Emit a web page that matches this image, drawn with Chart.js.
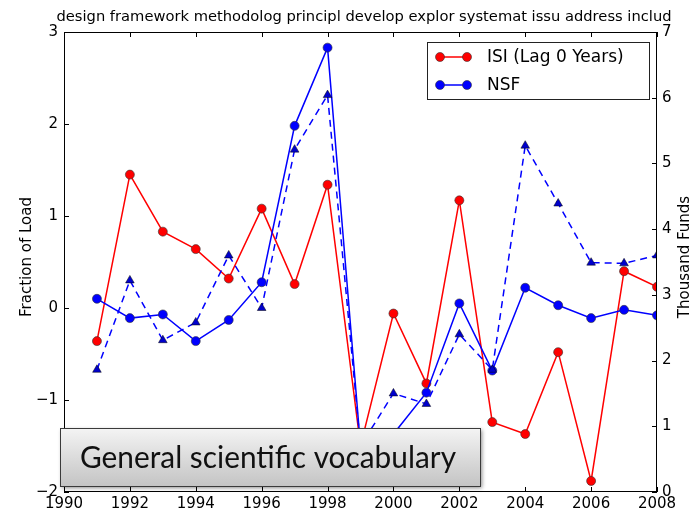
<!DOCTYPE html>
<html>
<head>
    <script src="https://cdn.jsdelivr.net/npm/chart.js@4.4.1/dist/chart.umd.min.js"></script>
    <style>
        html, body { margin: 0; padding: 0; background: #fff; }
        #wrap { width: 698px; height: 511px; }
    </style>
</head>
<body>
    <div id="wrap"><canvas id="chart" width="698" height="511"></canvas></div>

    <script>
        // values
        const years = [1991, 1992, 1993, 1994, 1995, 1996, 1997, 1998, 1999, 2000,
                       2001, 2002, 2003, 2004, 2005, 2006, 2007, 2008]
        const isi = [-0.36, 1.45, 0.83, 0.64, 0.32, 1.08, 0.26, 1.34, -1.5, -0.06,
                     -0.82, 1.17, -1.24, -1.37, -0.48, -1.88, 0.40, 0.23]
        const nsf = [0.10, -0.11, -0.07, -0.36, -0.13, 0.28, 1.98, 2.83, -1.5, -1.37,
                     -0.92, 0.05, -0.68, 0.22, 0.03, -0.11, -0.02, -0.08]
        const funds = [1.86, 3.22, 2.31, 2.58, 3.60, 2.80, 5.21, 6.04, 0.7, 1.50,
                       1.34, 2.40, 1.86, 5.27, 4.39, 3.49, 3.48, 3.60]

        const titleText = "design framework methodolog principl develop explor systemat issu address includ"
        const legendLabels = ["ISI (Lag 0 Years)", "NSF"]
        const boxText = "General scientific vocabulary"

        const pts = arr => years.map((y, i) => ({ x: y, y: arr[i] }))
        const font = "DejaVu Sans"

        // frame, inward ticks, titles, legend and the grey label box
        const decor = {
            id: "decor",
            afterDatasetsDraw(chart) {
                const ctx = chart.ctx
                const a = chart.chartArea
                const sx = chart.scales.x, sl = chart.scales.y, sr = chart.scales.y2
                ctx.save()
                ctx.strokeStyle = "#000"
                ctx.lineWidth = 1
                ctx.strokeRect(a.left + 0.5, a.top + 0.5, a.right - a.left - 1, a.bottom - a.top - 1)
                ctx.beginPath()
                for (let v = 1990; v <= 2008; v += 2) {
                    const px = Math.round(sx.getPixelForValue(v)) + 0.5
                    ctx.moveTo(px, a.bottom); ctx.lineTo(px, a.bottom - 5)
                    ctx.moveTo(px, a.top); ctx.lineTo(px, a.top + 5)
                }
                for (let v = -2; v <= 3; v++) {
                    const py = Math.round(sl.getPixelForValue(v)) + 0.5
                    ctx.moveTo(a.left, py); ctx.lineTo(a.left + 5, py)
                }
                for (let v = 0; v <= 7; v++) {
                    const py = Math.round(sr.getPixelForValue(v)) + 0.5
                    ctx.moveTo(a.right, py); ctx.lineTo(a.right - 5, py)
                }
                ctx.stroke()

                // title
                ctx.fillStyle = "#000"
                ctx.font = "14.7px '" + font + "'"
                ctx.textAlign = "center"
                ctx.textBaseline = "middle"
                ctx.fillText(titleText, 364, 17)

                // axis titles
                ctx.font = "15px '" + font + "'"
                ctx.save()
                ctx.translate(27, 257)
                ctx.rotate(-Math.PI / 2)
                ctx.fillText("Fraction of Load", 0, 0)
                ctx.restore()
                ctx.save()
                ctx.translate(685, 257)
                ctx.rotate(-Math.PI / 2)
                ctx.fillText("Thousand Funds", 0, 0)
                ctx.restore()

                // legend
                ctx.fillStyle = "#fff"
                ctx.fillRect(427, 42, 222, 57)
                ctx.strokeStyle = "#222"
                ctx.strokeRect(427.5, 42.5, 222, 57)
                const cols = ["#ff0000", "#0000ff"]
                const rows = [57, 85]
                rows.forEach((ry, i) => {
                    ctx.strokeStyle = cols[i]
                    ctx.lineWidth = 1.5
                    ctx.beginPath()
                    ctx.moveTo(440, ry); ctx.lineTo(467, ry)
                    ctx.stroke()
                    for (const cx of [440, 467]) {
                        ctx.beginPath()
                        ctx.arc(cx, ry, 4.5, 0, Math.PI * 2)
                        ctx.fillStyle = cols[i]
                        ctx.fill()
                        ctx.lineWidth = 0.6
                        ctx.strokeStyle = "#333"
                        ctx.stroke()
                    }
                    ctx.fillStyle = "#000"
                    ctx.font = "17px '" + font + "'"
                    ctx.textAlign = "left"
                    ctx.fillText(legendLabels[i], 487, ry + 1)
                })

                // grey caption box
                ctx.save()
                ctx.shadowColor = "rgba(0,0,0,0.45)"
                ctx.shadowBlur = 4
                ctx.shadowOffsetX = 2
                ctx.shadowOffsetY = 2
                const g = ctx.createLinearGradient(0, 428, 0, 486)
                g.addColorStop(0, "#f4f4f4")
                g.addColorStop(1, "#c4c4c4")
                ctx.fillStyle = g
                ctx.fillRect(60, 428, 420, 58)
                ctx.restore()
                ctx.strokeStyle = "#3a3a3a"
                ctx.lineWidth = 1
                ctx.strokeRect(60.5, 428.5, 420, 58)
                ctx.fillStyle = "#111"
                ctx.font = "31px Lato"
                ctx.textAlign = "left"
                ctx.textBaseline = "alphabetic"
                ctx.fillText(boxText, 80, 468, 376)
                ctx.restore()
            }
        }

        new Chart(document.getElementById("chart"), {
            type: "line",
            data: {
                datasets: [
                    {
                        label: "Funds",
                        data: pts(funds),
                        yAxisID: "y2",
                        borderColor: "#0000ff",
                        borderWidth: 1.5,
                        borderDash: [7, 5],
                        pointStyle: "triangle",
                        pointRadius: 5,
                        pointBackgroundColor: "#0000cc",
                        pointBorderColor: "#000",
                        pointBorderWidth: 0.5,
                        order: 0
                    },
                    {
                        label: legendLabels[1],
                        data: pts(nsf),
                        yAxisID: "y",
                        borderColor: "#0000ff",
                        borderWidth: 1.5,
                        pointRadius: 4.5,
                        pointBackgroundColor: "#0000ff",
                        pointBorderColor: "#333",
                        pointBorderWidth: 0.6,
                        order: 1
                    },
                    {
                        label: legendLabels[0],
                        data: pts(isi),
                        yAxisID: "y",
                        borderColor: "#ff0000",
                        borderWidth: 1.5,
                        pointRadius: 4.5,
                        pointBackgroundColor: "#ff0000",
                        pointBorderColor: "#333",
                        pointBorderWidth: 0.6,
                        order: 2
                    }
                ]
            },
            options: {
                responsive: false,
                animation: false,
                events: [],
                layout: { padding: { top: 32, left: 0, right: 0, bottom: 0 } },
                plugins: { legend: { display: false }, title: { display: false }, tooltip: { enabled: false } },
                scales: {
                    x: {
                        type: "linear",
                        min: 1990, max: 2008,
                        grid: { display: false, drawTicks: false },
                        border: { display: false },
                        ticks: {
                            stepSize: 2, autoSkip: false, maxRotation: 0, padding: 3,
                            color: "#000", font: { family: font, size: 15 },
                            callback: v => String(v)
                        },
                        afterFit: s => { s.height = 19 }
                    },
                    y: {
                        position: "left",
                        min: -2, max: 3,
                        grid: { display: false, drawTicks: false },
                        border: { display: false },
                        ticks: {
                            stepSize: 1, padding: 6,
                            color: "#000", font: { family: font, size: 15 },
                            callback: v => String(v).replace("-", "\u2212")
                        },
                        afterFit: s => { s.width = 64 }
                    },
                    y2: {
                        position: "right",
                        min: 0, max: 7,
                        grid: { display: false, drawTicks: false },
                        border: { display: false },
                        ticks: {
                            stepSize: 1, padding: 5,
                            color: "#000", font: { family: font, size: 15 }
                        },
                        afterFit: s => { s.width = 41 }
                    }
                }
            },
            plugins: [decor]
        })
    </script>
</body>
</html>
